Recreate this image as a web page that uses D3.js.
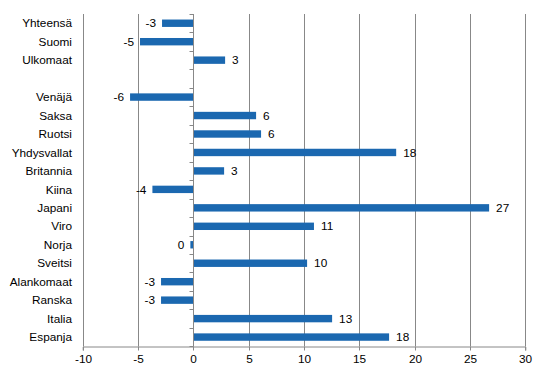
<!DOCTYPE html>
<html><head><meta charset="utf-8">
<script src="https://cdn.jsdelivr.net/npm/d3@7"></script>
<style>body{margin:0;background:#fff}svg{display:block}text{font-family:"Liberation Sans",Arial,sans-serif;font-size:11.8px;fill:#000}</style>
</head><body><svg id="c" width="546" height="376"></svg>
<script>
const categories = ["Yhteensä","Suomi","Ulkomaat","","Venäjä","Saksa","Ruotsi","Yhdysvallat","Britannia","Kiina","Japani","Viro","Norja","Sveitsi","Alankomaat","Ranska","Italia","Espanja"];
const values = [-2.83,-4.82,2.87,null,-5.72,5.67,6.12,18.33,2.78,-3.7,26.73,10.9,-0.27,10.28,-2.92,-2.92,12.54,17.69];
const labels = ["-3","-5","3","","-6","6","6","18","3","-4","27","11","0","10","-3","-3","13","18"];
const xTicks = [-10,-5,0,5,10,15,20,25,30];

const svg = d3.select("#c");
const m = {l:82.7, r:525.3, t:14, b:346.3};
const x = d3.scaleLinear().domain([-10,30]).range([m.l,m.r]);
const grey = "#888";

// gridlines
svg.append("g").selectAll("line").data(xTicks).join("line")
  .attr("x1",d=>Math.round(x(d))+0.5).attr("x2",d=>Math.round(x(d))+0.5)
  .attr("y1",m.t).attr("y2",m.b).attr("stroke",grey).attr("stroke-width",1);

// bottom axis
const xa = svg.append("g").attr("transform",`translate(0,${Math.round(m.b)+0.5})`)
  .call(d3.axisBottom(x).tickValues(xTicks).tickSize(4).tickPadding(4).tickFormat(d=>String(d)));
xa.select(".domain").attr("stroke",grey);
xa.selectAll(".tick line").attr("stroke",grey);
xa.selectAll(".tick").attr("transform",d=>`translate(${Math.round(x(d))+0.5},0)`);
xa.selectAll("text").style("font-size","11.8px").attr("fill","#000").attr("font-family","Liberation Sans, Arial, sans-serif");

// category ticks on zero axis
const step = (m.b-m.t)/categories.length;
const x0 = Math.round(x(0))+0.5;
svg.append("g").selectAll("line").data(d3.range(categories.length+1)).join("line")
  .attr("x1",x0-4).attr("x2",x0).attr("y1",i=>Math.round(m.t+i*step)+0.5).attr("y2",i=>Math.round(m.t+i*step)+0.5)
  .attr("stroke",grey);

// bars
const data = categories.map((c,i)=>({c,i,v:values[i],l:labels[i]})).filter(d=>d.v!==null);
svg.append("g").selectAll("rect").data(data).join("rect")
  .attr("x",d=>x(Math.min(0,d.v))).attr("width",d=>Math.abs(x(d.v)-x(0)))
  .attr("y",d=>m.t+d.i*step+step/2-3.7).attr("height",7.4).attr("fill","#1b68b0");

// zero axis line
svg.append("line").attr("x1",x0).attr("x2",x0).attr("y1",m.t).attr("y2",m.b).attr("stroke",grey);

// value labels
svg.append("g").selectAll("text").data(data).join("text")
  .attr("x",d=>d.v>=0 ? x(d.v)+7 : x(d.v)-6)
  .attr("y",d=>m.t+d.i*step+step/2).attr("dy","0.35em")
  .attr("text-anchor",d=>d.v>=0?"start":"end").text(d=>d.l);

// category labels
svg.append("g").selectAll("text").data(categories).join("text")
  .attr("x",72).attr("y",(d,i)=>m.t+i*step+step/2).attr("dy","0.35em")
  .attr("text-anchor","end").text(d=>d);
</script></body></html>
